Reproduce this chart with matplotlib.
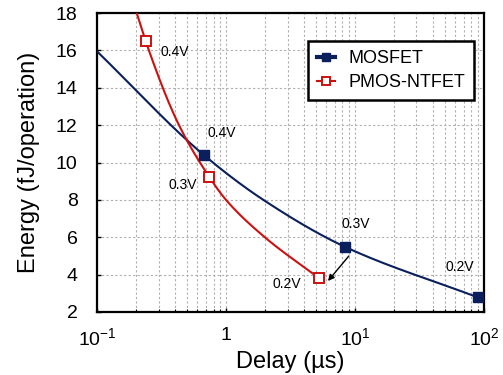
import numpy as np
import matplotlib
matplotlib.use("Agg")
import matplotlib.pyplot as plt
from matplotlib.ticker import FixedLocator, FixedFormatter, LogLocator, NullFormatter

plt.rcParams['font.family'] = ['Liberation Sans', 'DejaVu Sans']
plt.rcParams['mathtext.fontset'] = 'custom'
plt.rcParams['mathtext.rm'] = 'Liberation Sans'
plt.rcParams['mathtext.it'] = 'Liberation Sans'

# Marker data (delay in us, energy in fJ)
mos_delay = [0.674, 8.3, 90.0]
mos_energy = [10.4, 5.5, 2.78]
ntfet_delay = [0.238, 0.743, 5.25]
ntfet_energy = [16.5, 9.22, 3.82]

# Curve points (curves extend beyond markers)
mos_curve_delay = [0.1, 0.674, 1.95, 8.3, 90.0]
mos_curve_energy = [15.95, 10.4, 8.0, 5.5, 2.78]
ntfet_curve_delay = [0.203, 0.238, 0.432, 0.743, 1.0, 2.0, 5.25]
ntfet_curve_energy = [18.0, 16.5, 12.0, 9.22, 8.0, 6.0, 3.82]

mos_labels = ["0.4V", "0.3V", "0.2V"]
mos_label_pos = [(0.724, 11.58), (7.9, 6.71), (50.7, 4.41)]
ntfet_labels = ["0.4V", "0.3V", "0.2V"]
ntfet_label_pos = [(0.313, 15.9), (0.361, 8.8), (2.31, 3.5)]

xtick_vals = [0.1, 1, 10, 100]
xtick_labels = ["10$^{-1}$", "1", "10$^{1}$", "10$^{2}$"]

navy = '#0a1f5c'
red = '#cc1111'


def pchip(xs, ys, n=400):
    x = np.log10(np.asarray(xs, float))
    y = np.asarray(ys, float)
    h = np.diff(x)
    d = np.diff(y) / h
    m = np.zeros_like(y)
    for k in range(1, len(y) - 1):
        if d[k - 1] * d[k] > 0:
            w1 = 2 * h[k] + h[k - 1]
            w2 = h[k] + 2 * h[k - 1]
            m[k] = (w1 + w2) / (w1 / d[k - 1] + w2 / d[k])
    m[0] = d[0]
    m[-1] = d[-1]
    t_all = np.linspace(x[0], x[-1], n)
    out = np.empty_like(t_all)
    for i, t in enumerate(t_all):
        k = min(np.searchsorted(x, t, side='right') - 1, len(x) - 2)
        s = (t - x[k]) / h[k]
        h00 = 2 * s**3 - 3 * s**2 + 1
        h10 = s**3 - 2 * s**2 + s
        h01 = -2 * s**3 + 3 * s**2
        h11 = s**3 - s**2
        out[i] = h00 * y[k] + h10 * h[k] * m[k] + h01 * y[k + 1] + h11 * h[k] * m[k + 1]
    return 10 ** t_all, out


fig = plt.figure(figsize=(5.03, 3.75), dpi=100)
ax = fig.add_axes([0.193, 0.168, 0.769, 0.797])

cx, cy = pchip(mos_curve_delay, mos_curve_energy)
ax.plot(cx, cy, color=navy, lw=1.5, zorder=3)
cx, cy = pchip(ntfet_curve_delay, ntfet_curve_energy)
ax.plot(cx, cy, color=red, lw=1.5, zorder=3)

ax.plot(mos_delay, mos_energy, 's', color=navy, ms=7, zorder=4, clip_on=False)
ax.plot(ntfet_delay, ntfet_energy, 's', mfc='white', mec=red, mew=1.4, ms=7, zorder=4)

# legend proxies
ax.plot([], [], '-s', color=navy, ms=6, lw=3, label='MOSFET')
ax.plot([], [], '-s', color=red, mfc='white', mec=red, mew=1.4, ms=6, lw=1.5, label='PMOS-NTFET')

for lab, (x, y) in zip(mos_labels, mos_label_pos):
    ax.text(x, y, lab, fontsize=10, ha='left', va='center')
for lab, (x, y) in zip(ntfet_labels, ntfet_label_pos):
    ax.text(x, y, lab, fontsize=10, ha='left', va='center')

ax.annotate('', xy=(6.18, 3.66), xytext=(8.97, 5.0),
            arrowprops=dict(arrowstyle='-|>', color='black', lw=1.0,
                            mutation_scale=9, shrinkA=0, shrinkB=0))

ax.set_xscale('log')
ax.set_xlim(0.1, 100)
ax.set_ylim(2, 18)
ax.xaxis.set_major_locator(FixedLocator(xtick_vals))
ax.xaxis.set_major_formatter(FixedFormatter(xtick_labels))
ax.xaxis.set_minor_locator(LogLocator(base=10, subs=np.arange(2, 10), numticks=20))
ax.xaxis.set_minor_formatter(NullFormatter())
ax.set_yticks(np.arange(2, 19, 2))

ax.grid(True, which='both', axis='x', color='#b0b0b0', ls=(0, (2, 2)), lw=0.8)
ax.grid(True, which='major', axis='y', color='#b0b0b0', ls=(0, (2, 2)), lw=0.8)
ax.tick_params(which='major', direction='in', length=3, width=1, labelsize=14)
ax.tick_params(which='minor', direction='in', length=2, width=0.8)
ax.tick_params(axis='y', pad=14)
ax.tick_params(axis='x', pad=11)

for s in ax.spines.values():
    s.set_linewidth(1.6)

ax.set_xlabel('Delay (µs)', fontsize=17, labelpad=1)
ax.set_ylabel('Energy (fJ/operation)', fontsize=17, labelpad=11)

leg = ax.legend(loc='upper right', bbox_to_anchor=(0.974, 0.906), borderaxespad=0,
                fontsize=13, fancybox=False, framealpha=1, edgecolor='black',
                handlelength=1.0, borderpad=0.5, labelspacing=0.4, handletextpad=0.7)
leg.get_frame().set_linewidth(1.8)

fig.savefig('out.png', dpi=100)
